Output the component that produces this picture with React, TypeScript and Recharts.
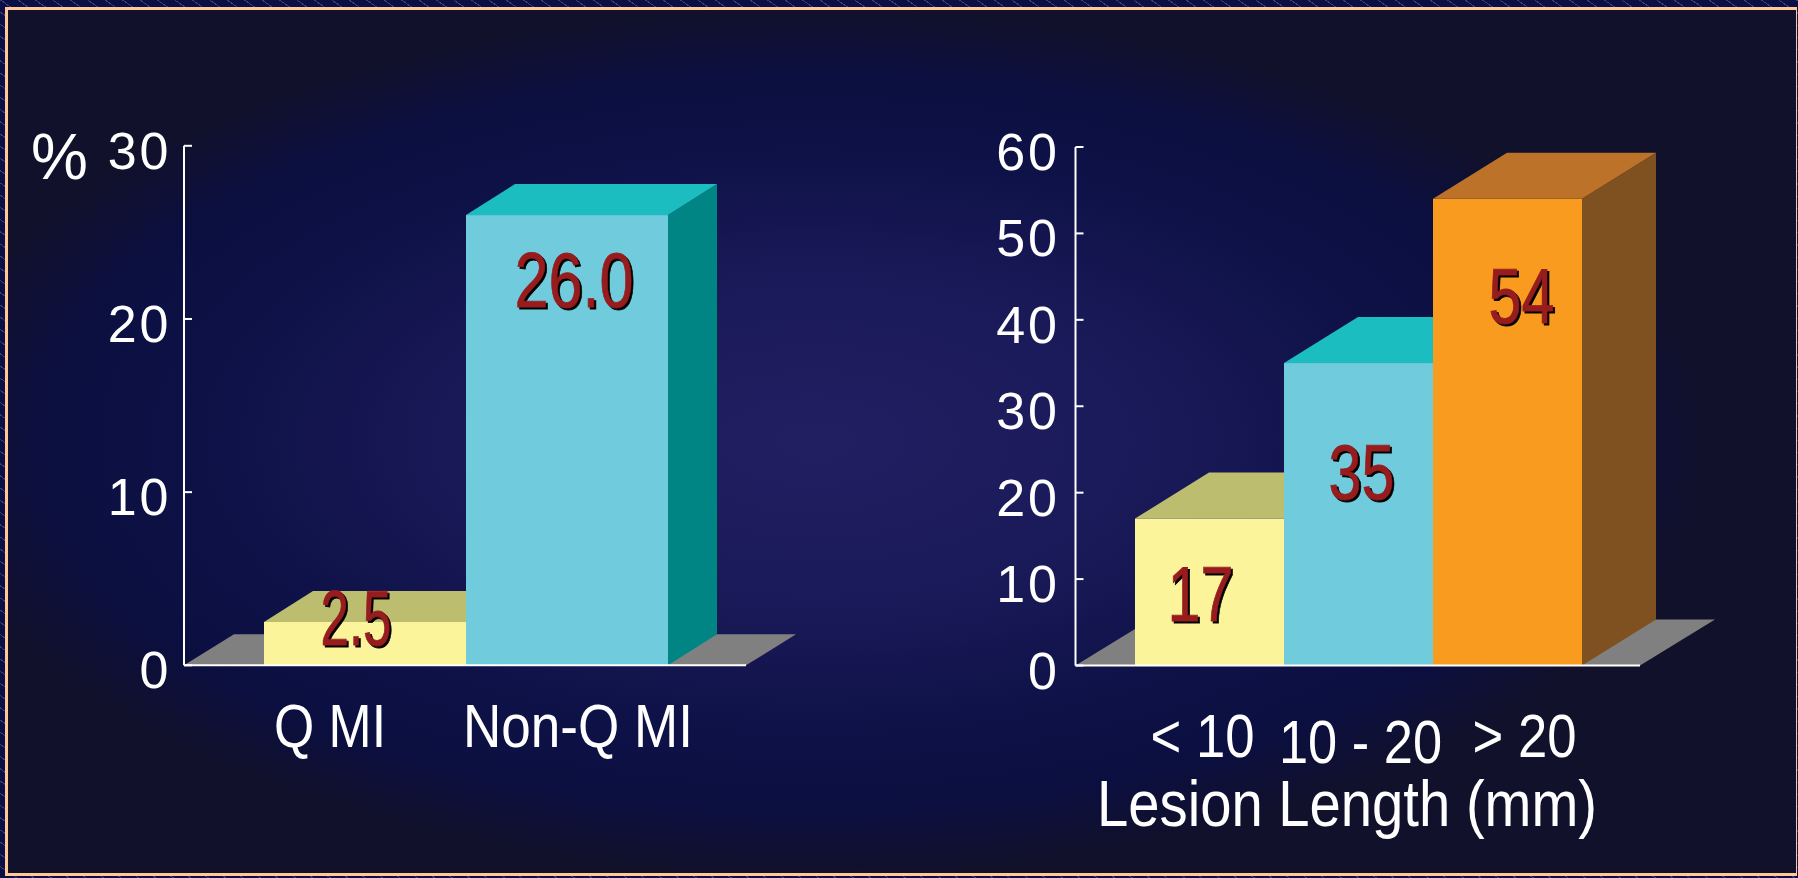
import React from "react";
import {
  BarChart,
  Bar,
  XAxis,
  YAxis,
  LabelList,
  usePlotArea,
} from "recharts";

// Infarct type panel
const infarctCategories = ["Q MI", "Non-Q MI"];
const infarctValues = [2.5, 26.0];
const infarctLabels = ["2.5", "26.0"];
const infarctTicks = [0, 10, 20, 30];

// Lesion length panel
const lesionCategories = ["< 10", "10 - 20", "> 20"];
const lesionValues = [17, 35, 54];
const lesionLabels = ["17", "35", "54"];
const lesionTicks = [0, 10, 20, 30, 40, 50, 60];

const FONT = '"Liberation Sans", Arial, sans-serif';
const WHITE = "#ffffff";

type Face = { front: string; top: string; side: string };
const YELLOW: Face = { front: "#FCF49B", top: "#BDBD70", side: "#8f8f55" };
const CYAN: Face = { front: "#70CCDD", top: "#1BBDC0", side: "#008484" };
const ORANGE: Face = { front: "#F99B1E", top: "#BD722A", side: "#7F5020" };

// A bar as three faces: front rectangle, receding top and right side.
function Block(props: any) {
  const { x, y, width, height, index, faces, dx, dy } = props;
  const f: Face = faces[index];
  const r = x + width;
  const b = y + height;
  return (
    <g>
      <polygon
        points={`${r},${y} ${r + dx},${y - dy} ${r + dx},${b - dy} ${r},${b}`}
        fill={f.side}
      />
      <polygon
        points={`${x},${y} ${x + dx},${y - dy} ${r + dx},${y - dy} ${r},${y}`}
        fill={f.top}
      />
      <rect x={x} y={y} width={width} height={height} fill={f.front} />
    </g>
  );
}

// Grey floor plane behind the bars, resting on the category axis.
function Floor({ dx, dy }: { dx: number; dy: number }) {
  const area = usePlotArea();
  if (!area) return null;
  const { x, y, width, height } = area;
  const b = y + height;
  return (
    <polygon
      points={`${x},${b} ${x + dx},${b - dy} ${x + width + dx},${b - dy} ${x + width},${b}`}
      fill="#808080"
    />
  );
}

// Value-axis tick: the mark points into the plot, the number sits outside.
function ValueTick(props: any) {
  const { x, y, payload, gap } = props;
  return (
    <g>
      <line x1={x} y1={y} x2={x + 8} y2={y} stroke={WHITE} strokeWidth={2} />
      <text
        x={x - gap}
        y={y + 23}
        textAnchor="end"
        fill={WHITE}
        fontFamily={FONT}
        fontSize={52}
        letterSpacing={3}
      >
        {payload.value}
      </text>
    </g>
  );
}

function CategoryTick(props: any) {
  const { x, y, payload, index, nudge } = props;
  const n = nudge[index];
  return (
    <text
      x={x + n.dx}
      y={y + n.dy}
      textAnchor="middle"
      fill={WHITE}
      fontFamily={FONT}
      fontSize={n.size}
      textLength={n.len}
      lengthAdjust="spacingAndGlyphs"
    >
      {payload.value}
    </text>
  );
}

// Value printed on a bar: dark red with a hard black drop shadow.
function ValueLabel(props: any) {
  const { x, y, width, index, texts, nudge } = props;
  const n = nudge[index];
  const cx = x + width / 2 + n.dx;
  const by = y + n.dy;
  const common = {
    textAnchor: "middle" as const,
    fontFamily: FONT,
    fontSize: 78,
    textLength: n.len,
    lengthAdjust: "spacingAndGlyphs" as const,
  };
  return (
    <g>
      <text x={cx + 2} y={by + 2} fill="#000000" stroke="#000000" strokeWidth={0.8} {...common}>
        {texts[index]}
      </text>
      <text x={cx} y={by} fill="#961C1E" stroke="#961C1E" strokeWidth={0.8} {...common}>
        {texts[index]}
      </text>
    </g>
  );
}

const infarctData = infarctCategories.map((name, i) => ({
  name,
  value: infarctValues[i],
}));
const lesionData = lesionCategories.map((name, i) => ({
  name,
  value: lesionValues[i],
}));

const panel: React.CSSProperties = { position: "absolute", top: 0 };

export default function App() {
  return (
    <div
      style={{
        position: "absolute",
        left: 0,
        top: 0,
        width: 1798,
        height: 878,
        overflow: "hidden",
        background:
          "repeating-linear-gradient(35deg, #0a0f45 0 9px, #3b3f78 9px 10px)",
      }}
    >
      <div
        style={{
          position: "absolute",
          left: 5,
          top: 7,
          width: 1792,
          height: 869,
          boxSizing: "border-box",
          borderStyle: "solid",
          borderColor: "#FFC896",
          borderWidth: "3px 1px 3px 3px",
          background:
            "radial-gradient(ellipse 50% 50% at 45% 50%, #211F62 0%, #1a1958 40%, #0f1248 65%, #0b0f40 85%, #10102e 98%, #11112c 100%)",
        }}
      />
      <div style={{ ...panel, left: 0, width: 900, height: 878 }}>
        <BarChart
          width={900}
          height={878}
          data={infarctData}
          barCategoryGap={0}
          margin={{ top: 145.8, left: 84, right: 154, bottom: 132.7 }}
        >
          <Floor dx={50} dy={31} />
          <XAxis
            dataKey="name"
            height={80}
            interval={0}
            padding={{ left: 80, right: 78 }}
            axisLine={{ stroke: WHITE, strokeWidth: 2 }}
            tickLine={false}
            tickSize={0}
            tick={
              <CategoryTick
                nudge={[
                  { dx: -35, dy: 80, size: 62, len: 112 },
                  { dx: 11, dy: 80, size: 62, len: 230 },
                ]}
              />
            }
          />
          <YAxis
            type="number"
            domain={[0, 30]}
            ticks={infarctTicks}
            interval={0}
            width={100}
            axisLine={{ stroke: WHITE, strokeWidth: 2 }}
            tickLine={false}
            tickSize={0}
            tickMargin={0}
            tick={<ValueTick gap={12.5} />}
            label={{
              content: () => (
                <text x={31} y={179} fill={WHITE} fontFamily={FONT} fontSize={64}>
                  %
                </text>
              ),
            }}
          />
          <Bar
            dataKey="value"
            isAnimationActive={false}
            shape={<Block faces={[YELLOW, CYAN]} dx={49} dy={31} />}
          >
            <LabelList
              dataKey="value"
              content={
                <ValueLabel
                  texts={infarctLabels}
                  nudge={[
                    { dx: -9, dy: 23, len: 71 },
                    { dx: 7, dy: 92, len: 119 },
                  ]}
                />
              }
            />
          </Bar>
        </BarChart>
      </div>
      <div style={{ ...panel, left: 900, width: 898, height: 878 }}>
        <BarChart
          width={898}
          height={878}
          data={lesionData}
          barCategoryGap={0}
          margin={{ top: 147, left: 75.5, right: 158, bottom: 132.5 }}
        >
          <Floor dx={75} dy={46} />
          <XAxis
            dataKey="name"
            height={80}
            interval={0}
            padding={{ left: 59.5, right: 58 }}
            axisLine={{ stroke: WHITE, strokeWidth: 2 }}
            tickLine={false}
            tickSize={0}
            tick={
              <CategoryTick
                nudge={[
                  { dx: -7, dy: 89, size: 62, len: 104 },
                  { dx: 2, dy: 95, size: 62, len: 163 },
                  { dx: 17, dy: 89, size: 62, len: 104 },
                ]}
              />
            }
            label={{
              content: () => (
                <text
                  x={447}
                  y={826}
                  textAnchor="middle"
                  fill={WHITE}
                  fontFamily={FONT}
                  fontSize={64}
                  textLength={500}
                  lengthAdjust="spacingAndGlyphs"
                >
                  Lesion Length (mm)
                </text>
              ),
            }}
          />
          <YAxis
            type="number"
            domain={[0, 60]}
            ticks={lesionTicks}
            interval={0}
            width={100}
            axisLine={{ stroke: WHITE, strokeWidth: 2 }}
            tickLine={false}
            tickSize={0}
            tickMargin={0}
            tick={<ValueTick gap={15.5} />}
          />
          <Bar
            dataKey="value"
            isAnimationActive={false}
            shape={<Block faces={[YELLOW, CYAN, ORANGE]} dx={74} dy={46} />}
          >
            <LabelList
              dataKey="value"
              content={
                <ValueLabel
                  texts={lesionLabels}
                  nudge={[
                    { dx: -9, dy: 102, len: 66 },
                    { dx: 3, dy: 136, len: 66 },
                    { dx: 14, dy: 124, len: 66 },
                  ]}
                />
              }
            />
          </Bar>
        </BarChart>
      </div>
    </div>
  );
}
